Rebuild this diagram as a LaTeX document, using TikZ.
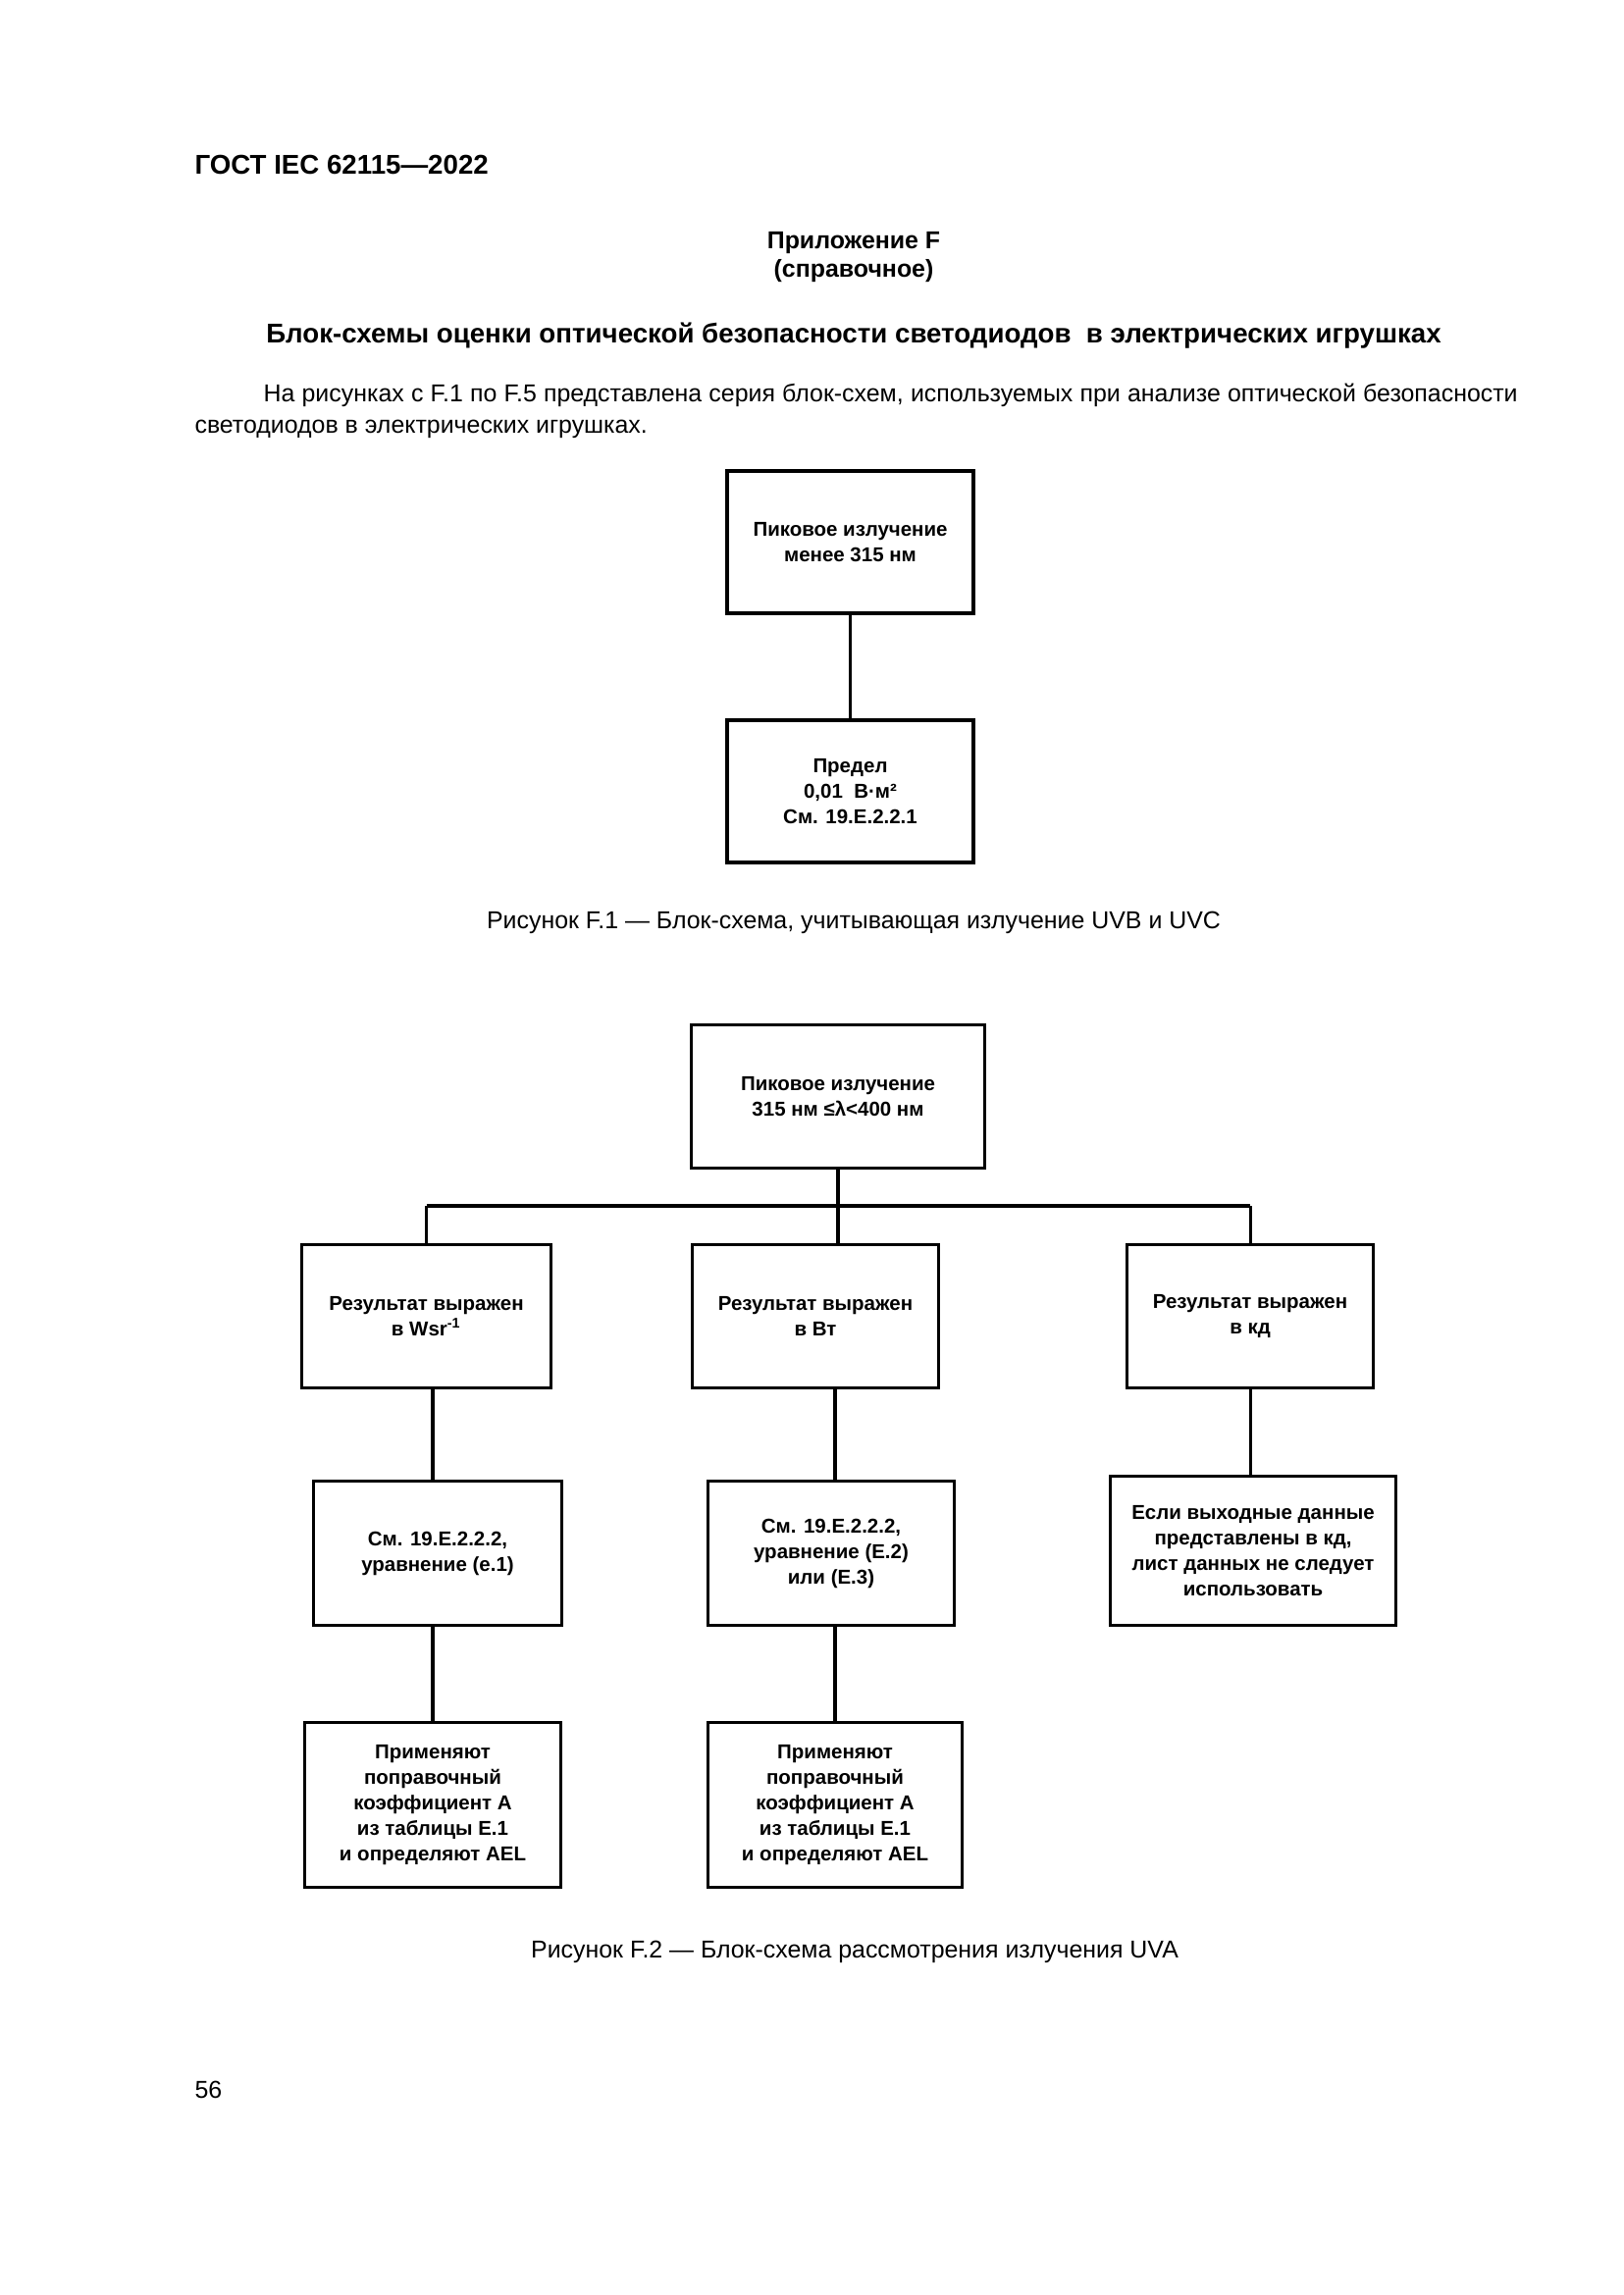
\documentclass[tikz,border=0pt]{standalone}
\usepackage{fontspec}
\setmainfont{Liberation Sans}
\usepackage{tikz}

\newcommand\boxfont{\fontsize{7.4}{9.4}\selectfont\bfseries}

\begin{document}
\begin{tikzpicture}[x=0.127mm, y=-0.127mm,
    box/.style={draw, line width=1.1pt, minimum width=32mm, minimum height=18.6mm,
                align=center, inner sep=2pt, font=\boxfont},
    link/.style={line width=1.1pt}]
    \useasboundingbox (0,0) rectangle (1654,2339);

    % page head
    \node[anchor=west, inner sep=0, font=\fontsize{10}{12}\selectfont\bfseries] (head) at (198, 168) {ГОСТ IEC 62115—2022};
    \node[inner sep=0, align=center, font=\fontsize{9}{10.8}\selectfont\bfseries] (annex) at (870, 262) {Приложение F\\(справочное)};
    \node[inner sep=0, font=\fontsize{10}{12}\selectfont\bfseries] (title) at (870, 342) {Блок-схемы оценки оптической безопасности светодиодов\ \ в электрических игрушках};
    \node[anchor=base west, inner sep=0, text width=171.2mm, align=justify, font=\fontsize{9}{11.3}\selectfont] (intro) at (198, 410)
        {\hspace*{8.9mm}На рисунках с F.1 по F.5 представлена серия блок-схем, используемых при анализе оптической безопасности\linebreak светодиодов в электрических игрушках.};

    % figure F.1
    \node[box, line width=1.4pt, minimum width=31.9mm, minimum height=18.4mm] (peak) at (866.5, 552.5) {Пиковое излучение\\менее 315 нм};
    \node[box, line width=1.4pt, minimum width=31.9mm, minimum height=18.4mm] (limit) at (866.5, 806.5) {Предел\\0,01\ \ В·м²\\См. 19.E.2.2.1};
    \draw[line width=1.4pt] (peak) -- (limit);
    \node[inner sep=0, font=\fontsize{9}{11}\selectfont] (cap1) at (870, 940) {Рисунок F.1 — Блок-схема, учитывающая излучение UVB и UVC};

    % figure F.2
    \node[box, minimum width=38mm] (uva) at (854, 1117.5) {Пиковое излучение\\315 нм ≤λ<400 нм};
    \coordinate (bus) at (854, 1229);

    \node[box, minimum width=32.3mm] (wsr) at (434.5, 1341.5) {Результат выражен\\в Wsr\textsuperscript{-1}};
    \node[box, minimum width=31.8mm] (watt) at (831, 1341.5) {Результат выражен\\в Вт};
    \node[box, minimum width=31.9mm] (cd) at (1274, 1341.5) {Результат выражен\\в кд};

    \node[box, minimum width=32.1mm, minimum height=18.7mm] (eq1) at (446, 1583) {См. 19.E.2.2.2,\\уравнение (e.1)};
    \node[box, minimum width=31.8mm, minimum height=18.7mm] (eq2) at (847, 1583) {См. 19.E.2.2.2,\\уравнение (E.2)\\или (E.3)};
    \node[box, minimum width=37mm, minimum height=19.3mm] (nodata) at (1277, 1580.5) {Если выходные данные\\представлены в кд,\\лист данных не следует\\использовать};

    \node[box, minimum width=33.1mm, minimum height=21.3mm] (ael1) at (441, 1839.5) {Применяют\\поправочный\\коэффициент А\\из таблицы Е.1\\и определяют AEL};
    \node[box, minimum width=32.9mm, minimum height=21.3mm] (ael2) at (851, 1839.5) {Применяют\\поправочный\\коэффициент А\\из таблицы Е.1\\и определяют AEL};

    \draw[link] (uva.south) -- (uva.south |- watt.north)
          (wsr.north |- bus) -- (cd.north |- bus)
          (wsr.north |- bus) -- (wsr.north)
          (cd.north |- bus) -- (cd.north)
          (ael1.north |- wsr.south) -- (ael1.north |- eq1.north)
          (ael2.north |- watt.south) -- (ael2.north |- eq2.north)
          (cd.south) -- (cd.south |- nodata.north)
          (ael1.north |- eq1.south) -- (ael1.north)
          (ael2.north |- eq2.south) -- (ael2.north)
          ;
    \node[inner sep=0, font=\fontsize{9}{11}\selectfont] (cap2) at (871, 1989) {Рисунок F.2 — Блок-схема рассмотрения излучения UVA};

    \node[anchor=west, inner sep=0, font=\fontsize{9}{11}\selectfont] (page) at (198, 2130) {56};
\end{tikzpicture}
\end{document}
